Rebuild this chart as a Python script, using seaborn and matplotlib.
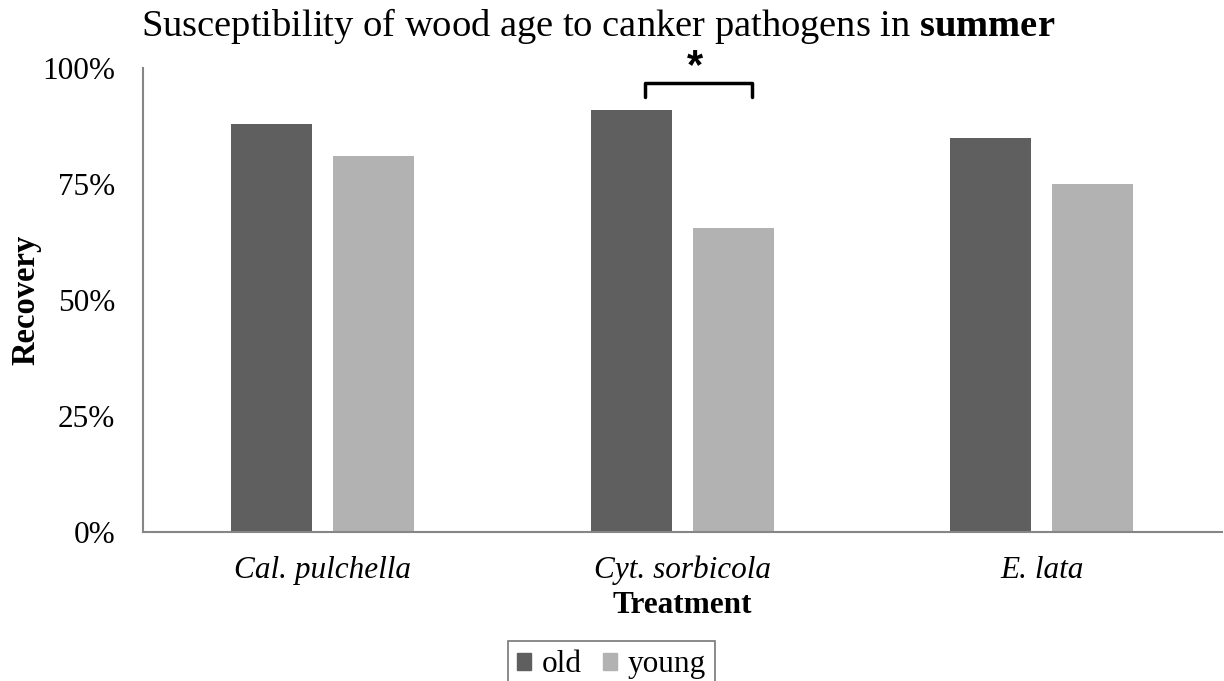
import matplotlib
matplotlib.use("Agg")
import matplotlib.pyplot as plt
import pandas as pd
import seaborn as sns

treatments = ["Cal. pulchella", "Cyt. sorbicola", "E. lata"]
old = [0.88, 0.91, 0.85]
young = [0.81, 0.655, 0.75]
ages = ["old", "young"]
colors = ["#5f5f5f", "#b2b2b2"]

df = pd.DataFrame({
    "Treatment": treatments * 2,
    "Age": ["old"] * 3 + ["young"] * 3,
    "Recovery": old + young,
})

sns.set_theme(style="white")
plt.rcParams["font.family"] = ["Liberation Serif", "DejaVu Serif"]
plt.rcParams["text.color"] = "black"
plt.rcParams["axes.labelcolor"] = "black"
plt.rcParams["xtick.color"] = "black"
plt.rcParams["ytick.color"] = "black"
plt.rcParams["mathtext.fontset"] = "custom"
plt.rcParams["mathtext.rm"] = "Liberation Serif"
plt.rcParams["mathtext.bf"] = "Liberation Serif:bold"

fig = plt.figure(figsize=(12.24, 6.81), dpi=100)
ax = fig.add_axes([0.1168, 0.2188, 0.8812, 0.6812])

sns.barplot(data=df, x="Treatment", y="Recovery", hue="Age", hue_order=ages,
            palette=colors, width=0.567, gap=0.206, saturation=1,
            edgecolor="none", ax=ax, legend=False)

ax.set_xlim(-0.5, 2.5)
ax.set_ylim(0, 1)
ax.set_yticks([0, 0.25, 0.5, 0.75, 1.0])
ax.set_yticklabels(["0%", "25%", "50%", "75%", "100%"], fontsize=22.5)
ax.set_xticks(range(len(treatments)))
ax.set_xticklabels(treatments, fontsize=22.5, style="italic")
ax.tick_params(axis="x", length=0, pad=17)
ax.tick_params(axis="y", length=0, pad=20)

for s in ["top", "right"]:
    ax.spines[s].set_visible(False)
for s in ["left", "bottom"]:
    ax.spines[s].set_color("#868686")
    ax.spines[s].set_linewidth(1.5)

ax.set_xlabel("Treatment", fontsize=22.5, fontweight="bold", labelpad=4)
ax.set_ylabel("Recovery", fontsize=23.5, fontweight="bold")
ax.yaxis.set_label_coords(-0.094, 0.5)

fig.text(0.489, 1 - 36 / 681,
         "Susceptibility of wood age to canker pathogens in $\\mathbf{summer}$",
         ha="center", va="baseline", fontsize=27.7)

# significance bracket over Cyt. sorbicola
i = treatments.index("Cyt. sorbicola")
x0, x1 = i - 0.104, i + 0.194
y0, y1 = 0.9375, 0.968
ax.plot([x0, x0, x1, x1], [y0, y1, y1, y0], color="black", lw=2.5,
        solid_joinstyle="round", clip_on=False)
ax.text((x0 + x1) / 2 - 0.01, y1 + 0.035, "*", ha="center", va="center",
        fontsize=30, fontweight="bold", family="Liberation Sans")

handles = [plt.Rectangle((0, 0), 1, 1, color=c) for c in colors]
leg = fig.legend(handles, ages, loc="upper center", bbox_to_anchor=(0.4995, 1 - 641 / 681),
                 ncol=2, fontsize=22.5, frameon=True, fancybox=False,
                 handlelength=0.45, handleheight=0.45, handletextpad=0.32,
                 columnspacing=0.7, borderpad=0.3, borderaxespad=0)
leg.get_frame().set_edgecolor("#555555")
leg.get_frame().set_linewidth(1.2)

fig.savefig("out.png", dpi=100)
